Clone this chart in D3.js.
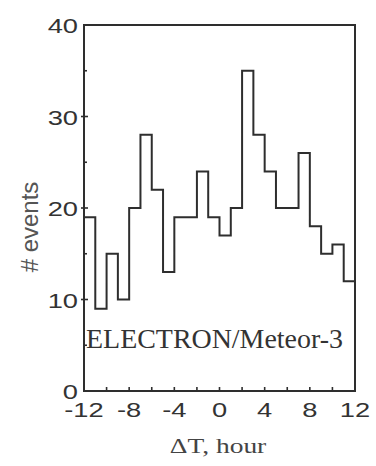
<!DOCTYPE html>
<html><head><meta charset="utf-8">
<script src="https://cdn.jsdelivr.net/npm/d3@7"></script>
<style>html,body{margin:0;padding:0;background:#fff;}svg{display:block;}</style>
</head><body>
<svg id="c" width="376" height="466"></svg>
<script>
const binEdges = [-12,-11,-10,-9,-8,-7,-6,-5,-4,-3,-2,-1,0,1,2,3,4,5,6,7,8,9,10,11];
const counts   = [19,9,15,10,20,28,22,13,19,19,24,19,17,20,35,28,24,20,20,26,18,15,16,12];
const xTicks = [-12,-8,-4,0,4,8,12];
const xMinor = [-10,-6,-2,2,6,10];
const yTicks = [0,10,20,30,40];
const yMinor = [5,15,25,35];
const label = "ELECTRON/Meteor-3";

const svg = d3.select("#c");
const L = 84, R = 355, T = 25, B = 391;
const x = d3.scaleLinear().domain([-12,12]).range([L,R]);
const y = d3.scaleLinear().domain([0,40]).range([B,T]);
const ink = "#2e2e2e";

// histogram step line
const pts = binEdges.map((e,i)=>[e,counts[i]]);
pts.push([12, counts[counts.length-1]]);
const line = d3.line().x(d=>x(d[0])).y(d=>y(d[1])).curve(d3.curveStepAfter);
svg.append("path").attr("d", line(pts)).attr("fill","none")
  .attr("stroke", ink).attr("stroke-width", 2);

// frame
svg.append("rect").attr("x",L).attr("y",T).attr("width",R-L).attr("height",B-T)
  .attr("fill","none").attr("stroke",ink).attr("stroke-width",2);

// y ticks
yTicks.filter(v=>v>0 && v<40).forEach(v=>{
  svg.append("line").attr("x1",L-3).attr("x2",L+4).attr("y1",y(v)).attr("y2",y(v))
    .attr("stroke",ink).attr("stroke-width",1.6);
});
yMinor.forEach(v=>{
  svg.append("line").attr("x1",L).attr("x2",L+3).attr("y1",y(v)).attr("y2",y(v))
    .attr("stroke",ink).attr("stroke-width",1.6);
});
// x ticks
xTicks.concat(xMinor).filter(v=>v>-12 && v<12).forEach(v=>{
  svg.append("line").attr("x1",x(v)).attr("x2",x(v)).attr("y1",B).attr("y2",B-4)
    .attr("stroke",ink).attr("stroke-width",1.6);
});

// tick labels
const tf = "'Liberation Sans', Arial, sans-serif";
yTicks.forEach(v=>{
  svg.append("text").attr("transform",`translate(78,${y(v)+8}) scale(1.3,1)`)
    .attr("text-anchor","end").attr("font-family",tf).attr("font-size",21)
    .attr("fill","#333").text(v);
});
xTicks.forEach(v=>{
  svg.append("text").attr("transform",`translate(${x(v)},${417}) scale(1.3,1)`)
    .attr("text-anchor","middle").attr("font-family",tf).attr("font-size",21)
    .attr("fill","#333").text(v);
});

// axis titles
svg.append("text").attr("transform","translate(38,227) rotate(-90)")
  .attr("text-anchor","middle").attr("font-family",tf).attr("font-size",24)
  .attr("fill","#555").text("# events");
svg.append("text").attr("transform","translate(218,453) scale(1.25,1)")
  .attr("text-anchor","middle").attr("font-family","'Liberation Serif','Times New Roman',serif")
  .attr("font-size",22).attr("fill","#444").text("ΔT, hour");

svg.append("text").attr("x",86).attr("y",348)
  .attr("font-family","'Liberation Serif','Times New Roman',serif")
  .attr("font-size",28).attr("fill","#333").attr("textLength",257)
  .attr("lengthAdjust","spacingAndGlyphs").text(label);
</script>
</body></html>
